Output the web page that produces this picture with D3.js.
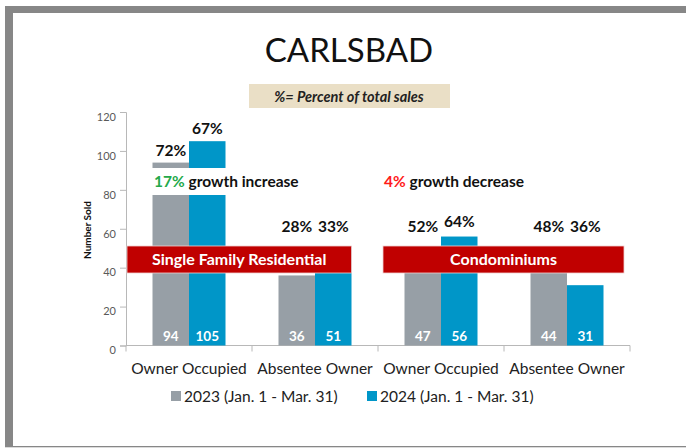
<!DOCTYPE html>
<html>
<head>
<meta charset="utf-8">
<script src="https://cdn.jsdelivr.net/npm/d3@7"></script>
<style>
  html, body { margin: 0; padding: 0; background: #ffffff; }
  svg { display: block; font-family: Lato, "Open Sans", "DejaVu Sans", sans-serif; }
</style>
</head>
<body>
<script>
// ---------- data ----------
const categories = ["Owner Occupied", "Absentee Owner", "Owner Occupied", "Absentee Owner"];
const seriesNames = ["2023 (Jan. 1 - Mar. 31)", "2024 (Jan. 1 - Mar. 31)"];
const values2023 = [94, 36, 47, 44];
const values2024 = [105, 51, 56, 31];
const pct2023 = ["72%", "28%", "52%", "48%"];
const pct2024 = ["67%", "33%", "64%", "36%"];
const groupNames = ["Single Family Residential", "Condominiums"];
const growthPct = ["17%", "4%"];
const growthText = ["growth increase", "growth decrease"];
const yTicks = [0, 20, 40, 60, 80, 100, 120];
const title = "CARLSBAD";
const subtitle = "%= Percent of total sales";
const yTitle = "Number Sold";

// ---------- layout ----------
const W = 686, H = 448;
const colors = ["#979fa6", "#0096c8"];
const svg = d3.select("body").append("svg").attr("width", W).attr("height", H);

// frame
svg.append("rect").attr("x", 5).attr("y", 6).attr("width", W - 5).attr("height", 7).attr("fill", "#878787");
svg.append("rect").attr("x", 5).attr("y", 6).attr("width", 8).attr("height", 441).attr("fill", "#878787");
svg.append("rect").attr("x", 5).attr("y", 446).attr("width", W - 5).attr("height", 1.3).attr("fill", "#878787");

// title
svg.append("text").attr("x", 349).attr("y", 62).attr("text-anchor", "middle")
  .attr("font-size", 33).attr("fill", "#111").text(title);

// subtitle box
svg.append("rect").attr("x", 249).attr("y", 84).attr("width", 201).attr("height", 24).attr("fill", "#eadfc6");
svg.append("text").attr("x", 349).attr("y", 101.5).attr("text-anchor", "middle")
  .attr("font-size", 14.5).attr("font-weight", "bold").attr("font-style", "italic").attr("fill", "#222").text(subtitle);

// scales
const x0 = d3.scaleBand().domain(d3.range(categories.length)).range([126, 630]);
const x1 = d3.scaleBand().domain([0, 1]).range([26.5, 99.5]);
const y = d3.scaleLinear().domain([0, 120]).range([345.5, 112]);

// y axis
const yAxis = svg.append("g").attr("transform", "translate(126,0)")
  .call(d3.axisLeft(y).tickValues(yTicks).tickSize(6).tickPadding(4));
yAxis.select(".domain").attr("stroke", "#b8b8b8");
yAxis.selectAll(".tick line").attr("stroke", "#b8b8b8");
yAxis.selectAll(".tick text").attr("fill", "#595959").attr("font-size", 11)
  .attr("font-family", "Lato, 'Open Sans', sans-serif").attr("dy", "0.75em");

// y title
svg.append("text").attr("transform", "translate(91,230) rotate(-90)").attr("text-anchor", "middle")
  .attr("font-size", 10).attr("font-weight", "bold").attr("fill", "#111").text(yTitle);

// x axis
const xg = svg.append("g");
xg.append("line").attr("x1", 126).attr("x2", 630).attr("y1", y(0)).attr("y2", y(0)).attr("stroke", "#b8b8b8");
const bounds = d3.range(categories.length + 1).map(i => i < categories.length ? x0(i) : x0(i - 1) + x0.bandwidth());
xg.selectAll("line.tk").data(bounds).join("line").attr("class", "tk")
  .attr("x1", d => d).attr("x2", d => d).attr("y1", y(0)).attr("y2", y(0) + 6).attr("stroke", "#b8b8b8");
xg.selectAll("text").data(categories).join("text")
  .attr("x", (d, i) => x0(i) + x0.bandwidth() / 2).attr("y", 374).attr("text-anchor", "middle")
  .attr("font-size", 15.5).attr("fill", "#222").text(d => d);

// bars
const series = [values2023, values2024];
const barData = [];
series.forEach((vals, s) => vals.forEach((v, i) => barData.push({ s, i, v })));
svg.append("g").selectAll("rect").data(barData).join("rect")
  .attr("x", d => x0(d.i) + x1(d.s)).attr("width", x1.bandwidth())
  .attr("y", d => y(d.v)).attr("height", d => y(0) - y(d.v)).attr("fill", d => colors[d.s]);

// value labels inside bars
svg.append("g").selectAll("text").data(barData).join("text")
  .attr("x", d => x0(d.i) + x1(d.s) + x1.bandwidth() / 2).attr("y", 341).attr("text-anchor", "middle")
  .attr("font-size", 13.5).attr("font-weight", "bold").attr("fill", "#ffffff").text(d => d.v);

// growth notes with white backing
const groupStartCat = [0, 2];
const noteX = [x0(0) + 28, x0(2) + 6];
groupStartCat.forEach((c, g) => {
  svg.append("rect").attr("x", noteX[g] - 4).attr("y", 168).attr("width", 150).attr("height", 27).attr("fill", "#ffffff");
  const t = svg.append("text").attr("x", noteX[g]).attr("y", 187).attr("font-size", 15.5).attr("font-weight", "bold");
  t.append("tspan").attr("fill", g === 0 ? "#23a94a" : "#ff1a1a").text(growthPct[g]);
  t.append("tspan").attr("fill", "#111").text(" " + growthText[g]);
});

// banners
const bannerTop = 246, bannerH = 27;
const bannerX = [[x0(0) + 1, x0(1) + x1(1) + x1.bandwidth()], [x0(2) + 5, x0(3) + x0.bandwidth() - 6]];
bannerX.forEach((b, g) => {
  svg.append("rect").attr("x", b[0]).attr("y", bannerTop).attr("width", b[1] - b[0]).attr("height", bannerH)
    .attr("fill", "#c00000").attr("stroke", "#f0d0d0").attr("stroke-width", 0.8);
  svg.append("text").attr("x", (b[0] + b[1]) / 2).attr("y", bannerTop + 19).attr("text-anchor", "middle")
    .attr("font-size", 16).attr("font-weight", "bold").attr("fill", "#ffffff").text(groupNames[g]);
});

// percent labels
const pcts = [pct2023, pct2024];
svg.append("g").selectAll("text").data(barData).join("text")
  .attr("x", d => x0(d.i) + x1(d.s) + x1.bandwidth() / 2)
  .attr("y", d => {
    const top = y(d.v);
    return top < bannerTop ? Math.min(top - 7, bannerTop - 19) : bannerTop - 14;
  })
  .attr("text-anchor", "middle").attr("font-size", 15.5).attr("font-weight", "bold").attr("fill", "#111")
  .text(d => pcts[d.s][d.i]);

// legend
const legendX = [171, 367];
seriesNames.forEach((n, s) => {
  svg.append("rect").attr("x", legendX[s]).attr("y", 391).attr("width", 10).attr("height", 10).attr("fill", colors[s]);
  svg.append("text").attr("x", legendX[s] + 13).attr("y", 401.5).attr("font-size", 15.5).attr("fill", "#222").text(n);
});
</script>
</body>
</html>
